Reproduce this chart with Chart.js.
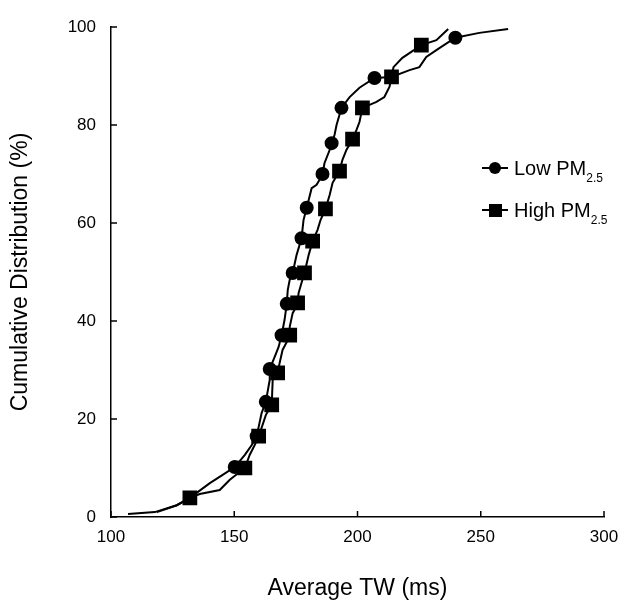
<!DOCTYPE html>
<html><head><meta charset="utf-8">
<script src="https://cdn.jsdelivr.net/npm/chart.js@4.4.0/dist/chart.umd.min.js"></script>
<style>
html,body{margin:0;padding:0;background:#fff;}
#wrap{position:relative;width:618px;height:602px;}
#legend{font-family:"Liberation Sans",Arial,Helvetica,sans-serif;font-size:20px;color:#000;}
.row{position:absolute;left:482px;display:flex;align-items:center;height:26px;white-space:nowrap;}
.sym{position:relative;width:26px;height:14px;margin-right:6px;}
.sym .ln{position:absolute;left:0;right:0;top:6px;height:2px;background:#000;}
.sym .c{position:absolute;left:7px;top:1px;width:12px;height:12px;border-radius:50%;background:#000;}
.sym .s{position:absolute;left:6.5px;top:0.5px;width:13px;height:13px;background:#000;}
.sub{font-size:12px;position:relative;top:7px;}
</style>
</head><body>
<div id="wrap">
<canvas id="c" width="618" height="602"></canvas>
<div id="legend"></div>
</div>
<script>
// ---- data ----
const seriesNames = ["Low PM", "High PM"];
const seriesSub = "2.5";

const lowTW  = [106.9,117.8,126.7,132.0,140.1,145.3,150.2,154.3,157.1,159.1,161.1,162.8,164.4,164.4,166.4,168.0,169.2,170.4,171.3,171.7,172.5,173.7,175.3,177.3,178.1,179.4,181.4,183.4,184.6,185.8,186.6,188.7,189.5,190.7,191.5,193.5,196.8,200.8,206.9,213.8,221.1,225.1,227.9,233.2,239.7,249.4,261.1];
const lowPct = [0.6,1.0,2.4,3.9,6.9,8.6,10.2,12.7,14.7,16.5,21.2,23.5,28.0,30.2,32.7,34.7,37.1,40.2,43.5,46.3,48.4,49.8,53.5,56.9,60.6,63.1,67.1,67.8,68.8,70.0,72.2,74.9,76.3,78.0,80.0,83.5,85.7,87.6,89.6,89.8,91.2,91.8,93.9,95.7,97.8,98.8,99.6];
const lowMark= [0,0,0,1,0,0,1,0,0,1,0,1,0,1,0,0,1,0,1,0,0,1,0,1,0,1,0,0,0,1,0,0,1,0,0,1,0,0,1,0,0,0,0,0,1,0,0];

const highTW  = [118.6,126.7,132.0,136.0,144.1,148.2,154.3,156.3,158.3,159.9,161.5,162.8,165.2,165.6,167.6,168.4,169.6,171.3,172.5,172.5,173.7,174.9,175.7,176.1,177.3,178.5,180.2,181.8,183.8,185.0,187.0,188.7,189.9,192.7,193.9,195.5,198.0,199.6,200.8,202.0,207.7,210.9,213.0,213.8,214.6,218.2,225.9,232.0,236.8];
const highPct = [1.0,2.4,3.9,4.7,5.5,7.6,10.0,12.7,14.7,16.5,18.8,20.8,22.9,28.0,29.4,31.4,34.1,35.7,37.1,38.8,41.6,42.7,43.7,45.7,47.8,49.8,53.5,56.3,58.6,60.6,62.9,65.7,68.2,70.6,72.9,74.9,77.1,79.0,80.6,83.5,84.7,85.7,87.8,89.8,91.8,93.7,96.3,97.3,99.6];
const highMark= [0,0,1,0,0,0,1,0,0,1,0,0,1,0,1,0,0,0,1,0,0,0,1,0,0,1,0,1,0,0,1,0,0,1,0,0,1,0,0,1,0,0,0,1,0,0,1,0,0];

const xTicks = [100,150,200,250,300];
const yTicks = [0,20,40,60,80,100];
const xTitle = "Average TW (ms)";
const yTitle = "Cumulative Distribution (%)";

// ---- chart ----
const FONT = '"Liberation Sans", Arial, Helvetica, sans-serif';
const toPts = (xs, ys) => xs.map((v,i)=>({x:v, y:ys[i]}));

const inwardTicks = {
  id:'inwardTicks',
  afterDraw(chart){
    const ctx = chart.ctx, a = chart.chartArea, xs = chart.scales.x, ys = chart.scales.y;
    ctx.save();
    ctx.strokeStyle = '#000'; ctx.lineWidth = 1.5;
    xs.ticks.forEach(t=>{ const p = xs.getPixelForValue(t.value);
      ctx.beginPath(); ctx.moveTo(p, a.bottom); ctx.lineTo(p, a.bottom-6); ctx.stroke(); });
    ys.ticks.forEach(t=>{ const p = ys.getPixelForValue(t.value);
      ctx.beginPath(); ctx.moveTo(a.left, p); ctx.lineTo(a.left+6, p); ctx.stroke(); });
    ctx.restore();
  }
};

new Chart(document.getElementById('c'), {
  type:'line',
  data:{ datasets:[
    { label: seriesNames[1]+seriesSub, data: toPts(highTW, highPct), borderColor:'#000', backgroundColor:'#000',
      borderWidth:2, pointStyle:'rect', pointRadius: c => highMark[c.dataIndex] ? 9 : 0, pointHoverRadius:0, tension:0 },
    { label: seriesNames[0]+seriesSub, data: toPts(lowTW, lowPct), borderColor:'#000', backgroundColor:'#000',
      borderWidth:2, pointStyle:'circle', pointRadius: c => lowMark[c.dataIndex] ? 6 : 0, pointHoverRadius:0, tension:0 }
  ]},
  options:{
    responsive:false, animation:false, devicePixelRatio:1,
    layout:{ padding:{ top:27, right:14, left:0, bottom:0 } },
    plugins:{ legend:{display:false}, tooltip:{enabled:false} },
    scales:{
      x:{ type:'linear', min:100, max:300,
        afterBuildTicks: s => { s.ticks = xTicks.map(v=>({value:v})); },
        afterFit: s => { s.height = 85; s.paddingRight = 14; s.paddingLeft = 0; },
        grid:{ display:true, drawOnChartArea:false, drawTicks:false },
        border:{ display:true, color:'#000', width:1.5 },
        ticks:{ color:'#000', font:{family:FONT, size:17}, padding:10, maxRotation:0, autoSkip:false },
        title:{ display:true, text:xTitle, color:'#000', font:{family:FONT, size:23}, padding:{top:0,bottom:0} } },
      y:{ type:'linear', min:0, max:100,
        afterBuildTicks: s => { s.ticks = yTicks.map(v=>({value:v})); },
        afterFit: s => { s.width = 111; },
        grid:{ display:true, drawOnChartArea:false, drawTicks:false },
        border:{ display:true, color:'#000', width:1.5 },
        ticks:{ color:'#000', font:{family:FONT, size:17}, padding:15, autoSkip:false },
        title:{ display:true, text:yTitle, color:'#000', font:{family:FONT, size:23}, padding:{top:7,bottom:0} } }
    }
  },
  plugins:[inwardTicks]
});

// ---- legend (HTML text with subscript) ----
const leg = document.getElementById('legend');
[[seriesNames[0],'c',155],[seriesNames[1],'s',197]].forEach(([name,sym,top])=>{
  const r = document.createElement('div'); r.className='row'; r.style.top = top+'px';
  r.innerHTML = '<span class="sym"><span class="ln"></span><span class="'+sym+'"></span></span>'
    + '<span>'+name+'<span class="sub">'+seriesSub+'</span></span>';
  leg.appendChild(r);
});
</script>
</body></html>
